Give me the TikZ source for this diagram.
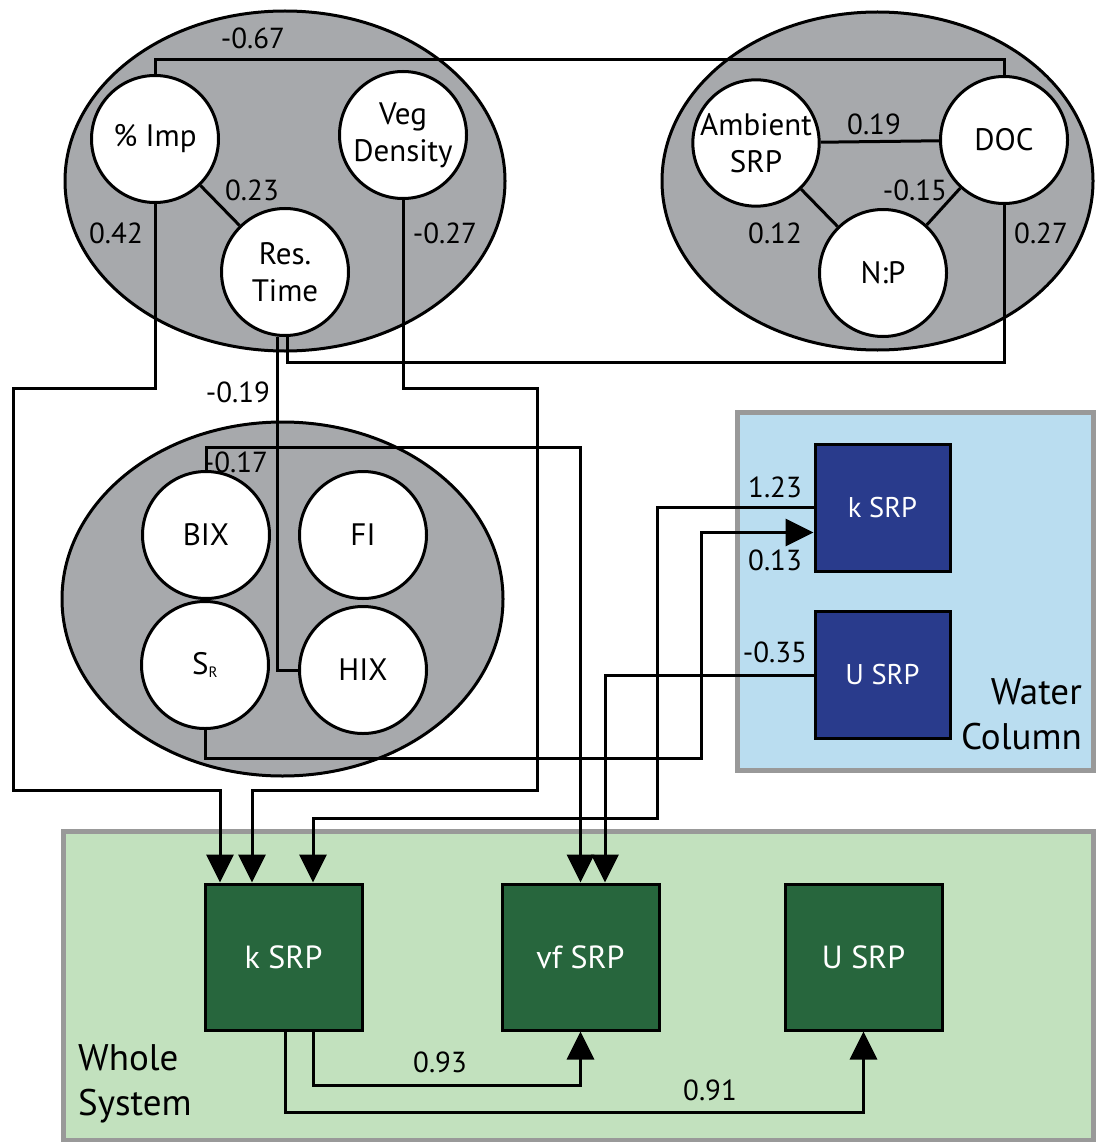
\documentclass[tikz,border=0pt]{standalone}
\usepackage{fontspec}
\setmainfont{PT Sans}
\usetikzlibrary{shapes.geometric,arrows.meta,calc}
\definecolor{ellgray}{HTML}{A7A9AC}
\definecolor{wcblue}{HTML}{BADDF0}
\definecolor{wsgreen}{HTML}{C2E1BE}
\definecolor{dkblue}{HTML}{293B8C}
\definecolor{dkgreen}{HTML}{27663D}
\definecolor{boxgray}{HTML}{999999}
\begin{document}
\begin{tikzpicture}[x=1pt,y=-1pt,
  grp/.style={ellipse, draw=black, fill=ellgray, line width=3pt, inner sep=0pt},
  var/.style={circle, draw=black, fill=white, line width=3pt, minimum size=127pt, inner sep=0pt, align=center, font=\fontsize{31}{37}\selectfont},
  region/.style={rectangle, draw=boxgray, line width=5pt, inner sep=0pt},
  wcbox/.style={rectangle, draw=black, fill=dkblue, text=white, line width=3pt, minimum width=135pt, minimum height=127pt, font=\fontsize{28.5}{32}\selectfont},
  wsbox/.style={rectangle, draw=black, fill=dkgreen, text=white, line width=3pt, minimum width=157pt, minimum height=146pt, font=\fontsize{32}{36}\selectfont},
  conn/.style={line width=3pt},
  arr/.style={line width=3pt, -{Triangle[length=28pt,width=27pt]}},
  lbl/.style={inner sep=0pt, font=\fontsize{29}{32}\selectfont},
  big/.style={inner sep=0pt, align=left, font=\fontsize{37}{45}\selectfont}
]
\useasboundingbox (0,0) rectangle (1097,1142);

% region boxes
\node[region, fill=wcblue, minimum width=356pt, minimum height=358pt] (wc) at (915,591) {};
\node[region, fill=wsgreen, minimum width=1030pt, minimum height=309pt] (ws) at (578,985.5) {};

% groups
\node[grp, minimum width=440pt, minimum height=340pt] (g1) at (285,181) {};
\node[grp, minimum width=431pt, minimum height=338pt] (g2) at (877.5,181) {};
\node[grp, minimum width=441pt, minimum height=354pt] (g3) at (282.5,599) {};

% variables
\node[var] (imp) at (155,139) {\% Imp};
\node[var] (veg) at (403,135) {Veg\\Density};
\node[var] (rt) at (285,272) {Res.\\Time};
\node[var, minimum size=124pt] (amb) at (756,143) {Ambient\\SRP};
\node[var] (doc) at (1004,140) {DOC};
\node[var] (np) at (883,273) {N:P};
\node[var] (bix) at (206,535) {BIX};
\node[var] (fi) at (363,535) {FI};
\node[var] (sr) at (205,665) {S\textsubscript{\fontsize{15}{16}\selectfont R}};
\node[var] (hix) at (363,670) {HIX};

% water column boxes
\node[wcbox] (wk) at (882.5,507.5) {k SRP};
\node[wcbox] (wu) at (882.5,675) {U SRP};

% whole system boxes
\node[wsbox] (sk) at (283.5,957) {k SRP};
\node[wsbox] (sv) at (580.5,957) {vf SRP};
\node[wsbox] (su) at (863.5,957) {U SRP};

\node[big, anchor=north east, align=right] at (1082,678) {Water\\Column};
\node[big, anchor=north west] at (78,1044) {Whole\\System};

% level coordinates
\coordinate (yA) at (0,60);
\coordinate (yB) at (0,362);
\coordinate (yC) at (0,388);
\coordinate (yE) at (0,447);
\coordinate (yF) at (0,758);
\coordinate (rtL) at ($(rt.south)+(-8,0)$);
\coordinate (rtR) at ($(rt.south)+(2,0)$);
\coordinate (wkL) at ($(wk.west)+(0,25)$);

% within-group links
\draw[conn] (imp) -- (rt);
\draw[conn] (amb) -- (doc);
\draw[conn] (amb) -- (np);
\draw[conn] (doc) -- (np);

% cross links
\draw[conn] (imp.north) -- (imp.north |- yA) -| (doc.north);
\draw[conn] (doc.south) -- (doc.south |- yB) -| (rtR);
\draw[conn] (rtL) -- (rtL |- hix.west) -- (hix.west);

\draw[arr] (imp.south) -- (imp.south |- yC) -- (13,388) -- (13,790) -- (220,790) -- (sk.north -| 220,0);
\draw[arr] (veg.south) -- (veg.south |- yC) -- (537,388) -- (537,790) -- (252,790) -- (sk.north -| 252,0);
\draw[arr] (wk.west) -- (657,507.5) -- (657,818) -- (313,818) -- (sk.north -| 313,0);
\draw[arr] (bix.north) -- (bix.north |- yE) -- (580.5,447) -- (sv.north);
\draw[arr] (wu.west) -- (605,675) -- (sv.north -| 605,0);
\draw[arr] (sr.south) -- (sr.south |- yF) -- (701,758) -- (701,532.5) -- (wkL);

\draw[arr] (sk.south -| 313,0) -- (313,1085) -- (580.5,1085) -- (sv.south);
\draw[arr] (sk.south -| 285,0) -- (285,1112) -- (863.5,1112) -- (su.south);

% labels
\node[lbl] at (253,38) {-0.67};
\node[lbl] at (252,190) {0.23};
\node[lbl] at (116,233) {0.42};
\node[lbl] at (445,233) {-0.27};
\node[lbl] at (874,124) {0.19};
\node[lbl] at (915,190) {-0.15};
\node[lbl] at (775,233) {0.12};
\node[lbl] at (1041,233) {0.27};
\node[lbl] at (238,392) {-0.19};
\node[lbl] at (236,462) {-0.17};
\node[lbl] at (775,487) {1.23};
\node[lbl] at (775,560) {0.13};
\node[lbl] at (775,652) {-0.35};
\node[lbl] at (440,1062) {0.93};
\node[lbl] at (710,1090) {0.91};
\end{tikzpicture}
\end{document}
